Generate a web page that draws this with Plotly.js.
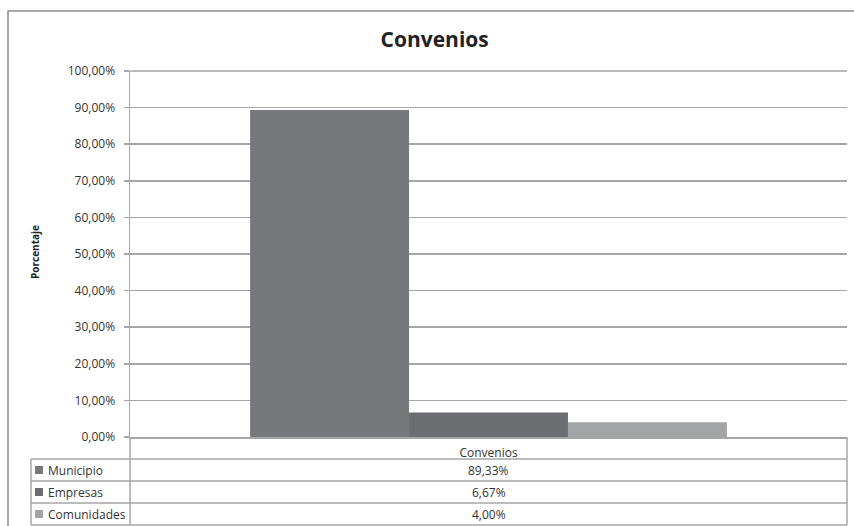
<!DOCTYPE html>
<html>
<head>
<meta charset="utf-8">
<script src="https://cdn.plot.ly/plotly-3.0.1.min.js"></script>
<style>
html,body{margin:0;padding:0;background:#fff;}
#chart{width:854px;height:526px;}
</style>
</head>
<body>
<div id="chart"></div>
<script>
const categories = ["Convenios"];
const seriesNames = ["Municipio", "Empresas", "Comunidades"];
const seriesValues = [[0.8933], [0.0667], [0.0400]];
const seriesColors = ["#77787c", "#6c6d70", "#a3a4a6"];
const yTickValues = [0, 0.1, 0.2, 0.3, 0.4, 0.5, 0.6, 0.7, 0.8, 0.9, 1.0];

const W = 854, H = 526;
const L = 130, R = 847, T = 71, B = 437;
const px = x => (x - L) / (R - L);
const py = y => (B - y) / (B - T);

const FONT = "Open Sans, Noto Sans, sans-serif";
const gridC = "#a6a6a6";

const traces = seriesNames.map((n, i) => ({
  type: "bar",
  name: n,
  x: categories,
  y: seriesValues[i],
  marker: {color: seriesColors[i], line: {width: 0}},
  hoverinfo: "none"
}));

const fmt = v => (v * 100).toFixed(2).replace(".", ",") + "%";

const shapes = [];
const annotations = [];
function line(x0, y0, x1, y1, c, w) {
  shapes.push({type: "line", xref: "paper", yref: "paper",
    x0: px(x0), y0: py(y0), x1: px(x1), y1: py(y1),
    line: {color: c || gridC, width: w || 1.5}});
}
// outer frame
shapes.push({type: "rect", xref: "paper", yref: "paper",
  x0: px(8), y0: py(11), x1: px(870), y1: py(540),
  line: {color: "#8c8c8c", width: 1.5}, fillcolor: "rgba(0,0,0,0)", layer: "below"});

// data table
const rowH = 22;
const tableLeft = 31;
const nRows = seriesNames.length;
for (let r = 0; r <= nRows; r++) {
  const y = B + rowH * (r + 1);
  line(tableLeft, y, R, y);
}
line(tableLeft, B + rowH, tableLeft, B + rowH * (nRows + 1));
line(L, B, L, B + rowH * (nRows + 1));
line(R, B, R, B + rowH * (nRows + 1));

seriesNames.forEach((n, i) => {
  const yc = B + rowH * (i + 1) + rowH / 2;
  shapes.push({type: "rect", xref: "paper", yref: "paper",
    x0: px(35), x1: px(43), y0: py(yc - 4), y1: py(yc + 4),
    fillcolor: seriesColors[i], line: {width: 0}});
  annotations.push({xref: "paper", yref: "paper", x: px(46), y: py(yc),
    xanchor: "left", yanchor: "middle", showarrow: false, text: n,
    font: {family: FONT, size: 12, color: "#333"}});
  annotations.push({xref: "paper", yref: "paper", x: px((L + R) / 2), y: py(yc),
    xanchor: "center", yanchor: "middle", showarrow: false, text: fmt(seriesValues[i][0]),
    font: {family: FONT, size: 12, color: "#333"}});
});

// y title
annotations.push({xref: "paper", yref: "paper", x: px(35), y: py(252),
  xanchor: "center", yanchor: "middle", showarrow: false, textangle: -90,
  text: "<b>Porcentaje</b>", font: {family: FONT, size: 10, color: "#222"}});

const layout = {
  width: W, height: H,
  margin: {l: L, r: W - R, t: T, b: H - B, pad: 0},
  paper_bgcolor: "#fff", plot_bgcolor: "#fff",
  showlegend: false,
  separators: ",.",
  barmode: "group",
  bargap: 0.335,
  bargroupgap: 0,
  title: {text: "<b>Convenios</b>", x: 0.509, xanchor: "center", y: 0.925, yanchor: "middle",
    font: {family: FONT, size: 21, color: "#222"}},
  xaxis: {
    type: "category",
    showgrid: false, zeroline: false,
    showline: true, linecolor: gridC, linewidth: 1.5,
    ticks: "", ticklabelstandoff: 4,
    tickfont: {family: FONT, size: 12, color: "#333"},
    fixedrange: true
  },
  yaxis: {
    range: [0, 1.0],
    tickvals: yTickValues,
    tickformat: ".2%",
    showgrid: true, gridcolor: gridC, gridwidth: 1.5,
    zeroline: false,
    showline: true, linecolor: gridC, linewidth: 1.5,
    ticks: "outside", ticklen: 5, tickcolor: gridC, tickwidth: 1.5,
    ticklabelstandoff: 6,
    tickfont: {family: FONT, size: 12, color: "#333"},
    fixedrange: true
  },
  shapes: shapes,
  annotations: annotations
};

// top gridline drawn across to match reference
line(L, T, R, T);

Plotly.newPlot("chart", traces, layout, {displayModeBar: false, staticPlot: true});
</script>
</body>
</html>
